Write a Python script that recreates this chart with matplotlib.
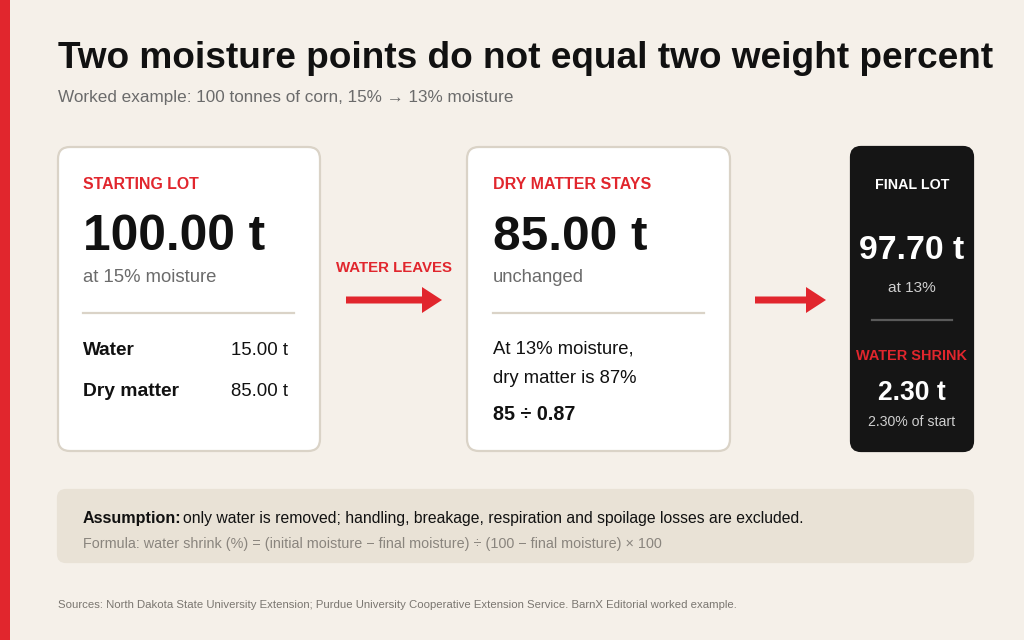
import matplotlib
matplotlib.use("Agg")
import matplotlib.pyplot as plt
from matplotlib.patches import FancyBboxPatch, FancyArrow, Rectangle

plt.rcParams['font.family'] = ['Liberation Sans', 'DejaVu Sans']

# ---- data ----
title = "Two moisture points do not equal two weight percent"
subtitle = "Worked example: 100 tonnes of corn, 15% \u2192 13% moisture"
start_total = 100.00
start_moisture = 15
final_moisture = 13
water_t = 15.00
dry_t = 85.00
dry_share = 0.87
final_total = 97.70
shrink_t = 2.30
shrink_pct = 2.30
card_labels = ["STARTING LOT", "DRY MATTER STAYS", "FINAL LOT", "WATER SHRINK"]
flow_label = "WATER LEAVES"
assumption_head = "Assumption:"
assumption_text = "only water is removed; handling, breakage, respiration and spoilage losses are excluded."
formula_text = ("Formula: water shrink (%) = (initial moisture \u2212 final moisture) \u00f7 "
                "(100 \u2212 final moisture) \u00d7 100")
sources = ("Sources: North Dakota State University Extension; Purdue University Cooperative "
           "Extension Service. BarnX Editorial worked example.")

# ---- style ----
BG = "#F5F0E9"
RED = "#E1262D"
BORDER = "#DAD3C7"
INK = "#111111"
GRAY = "#6B6B6B"
DARK = "#151515"
NOTE_BG = "#E9E2D6"

fig = plt.figure(figsize=(10.24, 6.4), dpi=100)
fig.patch.set_facecolor(BG)
ax = fig.add_axes([0, 0, 1, 1])
ax.set_xlim(0, 1024)
ax.set_ylim(640, 0)
ax.axis("off")
renderer = fig.canvas.get_renderer()


def txt(x, y, s, width, size, **kw):
    """Place text and scale its font so it spans `width` pixels."""
    t = ax.text(x, y, s, fontsize=size, va="baseline", **kw)
    w = t.get_window_extent(renderer=renderer).width
    t.set_fontsize(size * width / w)
    return t


ax.add_patch(Rectangle((0, 0), 10, 640, color=RED, lw=0))

txt(58, 68, title, 934, 28, fontweight="bold", color=INK)
txt(58, 102, subtitle, 456, 12, color=GRAY)


def card(x0, y0, x1, y1, fc, ec, r=12):
    ax.add_patch(FancyBboxPatch((x0, y0), x1 - x0, y1 - y0,
                                boxstyle=f"round,pad=0,rounding_size={r}",
                                fc=fc, ec=ec, lw=1.6))


# card 1
card(58, 147, 320, 451, "white", BORDER)
txt(83, 189, card_labels[0], 116, 11, fontweight="bold", color=RED)
txt(83, 250, f"{start_total:.2f} t", 182, 36, fontweight="bold", color=INK)
txt(83, 282, f"at {start_moisture}% moisture", 133, 13, color=GRAY)
ax.plot([83, 294], [313, 313], color=BORDER, lw=1.6)
txt(83, 355, "Water", 52, 13, fontweight="bold", color=INK)
txt(288, 355, f"{water_t:.2f} t", 57, 13, color=INK, ha="right")
txt(83, 396, "Dry matter", 96, 13, fontweight="bold", color=INK)
txt(288, 396, f"{dry_t:.2f} t", 57, 13, color=INK, ha="right")

# arrow 1
txt(394, 272, flow_label, 116, 11, fontweight="bold", color=RED, ha="center")
ax.add_patch(FancyArrow(346, 300, 96, 0, width=7, head_width=26, head_length=20,
                        length_includes_head=True, color=RED, lw=0))

# card 2
card(467, 147, 730, 451, "white", BORDER)
txt(493, 189, card_labels[1], 157, 11, fontweight="bold", color=RED)
txt(493, 250, f"{dry_t:.2f} t", 154, 36, fontweight="bold", color=INK)
txt(493, 282, "unchanged", 91, 13, color=GRAY)
ax.plot([493, 704], [313, 313], color=BORDER, lw=1.6)
txt(493, 353, f"At {final_moisture}% moisture,", 140, 13, color=INK)
txt(493, 383, f"dry matter is {round(dry_share*100)}%", 144, 13, color=INK)
txt(493, 420, f"{dry_t:.0f} \u00f7 {dry_share:.2f}", 82, 13, fontweight="bold", color=INK)

# arrow 2
ax.add_patch(FancyArrow(755, 300, 71, 0, width=7, head_width=26, head_length=20,
                        length_includes_head=True, color=RED, lw=0))

# card 3 (dark)
card(851, 147, 973, 451, DARK, DARK, r=10)
cx = 912
txt(cx, 189, card_labels[2], 75, 10.5, fontweight="bold", color="white", ha="center")
txt(cx, 259, f"{final_total:.2f} t", 105, 24, fontweight="bold", color="white", ha="center")
txt(cx, 292, f"at {final_moisture}%", 48, 10.5, color="#CFCFCF", ha="center")
ax.plot([872, 952], [320, 320], color="#5A5A5A", lw=1.6)
txt(cx, 360, card_labels[3], 111, 10.5, fontweight="bold", color=RED, ha="center")
txt(cx, 400, f"{shrink_t:.2f} t", 68, 20, fontweight="bold", color="white", ha="center")
txt(cx, 426, f"{shrink_pct:.2f}% of start", 88, 10, color="#CFCFCF", ha="center")

# assumption box
card(58, 490, 973, 562, NOTE_BG, NOTE_BG, r=8)
txt(83, 523, assumption_head, 98, 12, fontweight="bold", color=INK)
txt(183, 523, assumption_text, 623, 12, color=INK)
txt(83, 548, formula_text, 577, 9.5, color="#8A857E")

txt(58, 608, sources, 682, 8, color="#7A7670")

fig.savefig("out.png", dpi=100, facecolor=BG)
